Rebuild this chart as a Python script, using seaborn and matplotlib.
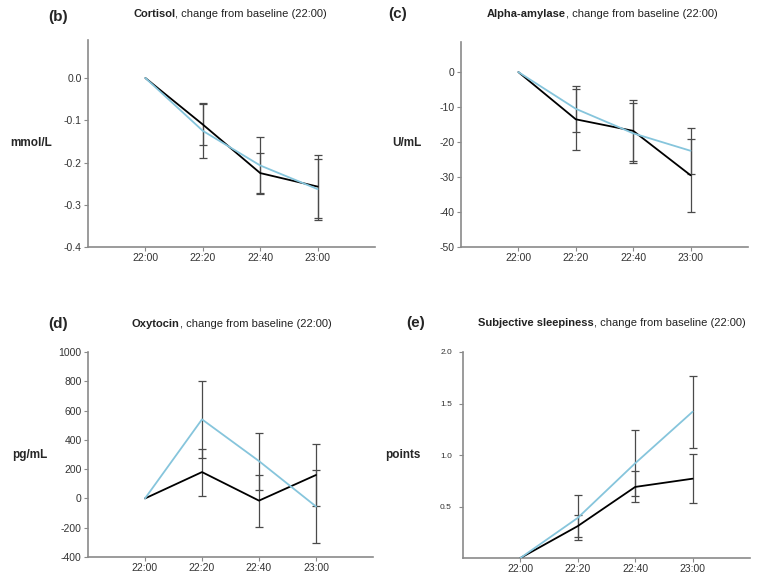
import numpy as np
import pandas as pd
import matplotlib
matplotlib.use('Agg')
import matplotlib.pyplot as plt
import seaborn as sns

times = ['22:00', '22:20', '22:40', '23:00']

# cortisol (mmol/L)
cort_black = [0, -0.11, -0.225, -0.257]
cort_black_err = [0, 0.049, 0.047, 0.075]
cort_blue = [0, -0.125, -0.207, -0.263]
cort_blue_err = [0, 0.065, 0.067, 0.072]

# alpha-amylase (U/mL)
amy_black = [0, -13.5, -16.8, -29.5]
amy_black_err = [0, 8.7, 8.7, 10.5]
amy_blue = [0, -10.5, -17.5, -22.5]
amy_blue_err = [0, 6.5, 8.6, 6.5]

# oxytocin (pg/mL)
oxy_black = [0, 180, -15, 160]
oxy_black_err = [0, 160, 178, 210]
oxy_blue = [0, 540, 255, -55]
oxy_blue_err = [0, 265, 195, 252]

# subjective sleepiness (points)
sleep_black = [0, 0.31, 0.69, 0.77]
sleep_black_err = [0, 0.11, 0.15, 0.235]
sleep_blue = [0, 0.39, 0.92, 1.42]
sleep_blue_err = [0, 0.22, 0.32, 0.35]

sns.set_style('ticks')
plt.rcParams['font.family'] = ['Liberation Sans', 'DejaVu Sans']

blue = '#86c5dc'
grey = '#4a4a4a'
spine_c = '#8a8a8a'

fig = plt.figure(figsize=(7.69, 5.83), dpi=100)
W, H = 769, 583

def add_ax(l, t, r, b):
    return fig.add_axes([l / W, 1 - b / H, (r - l) / W, (b - t) / H])

def panel(ax, black, black_err, blu, blu_err, ylim, yticks, ticklabels, fs):
    x = np.arange(len(times))
    df = pd.DataFrame({'x': np.concatenate([x, x]),
                       'y': black + blu,
                       'grp': ['a'] * 4 + ['b'] * 4})
    ax.errorbar(x[1:], blu[1:], yerr=blu_err[1:], fmt='none', ecolor=grey,
                elinewidth=0.9, capsize=3, capthick=0.9, zorder=1)
    ax.errorbar(x[1:], black[1:], yerr=black_err[1:], fmt='none', ecolor=grey,
                elinewidth=0.9, capsize=3, capthick=0.9, zorder=1)
    sns.lineplot(data=df, x='x', y='y', hue='grp', palette={'a': 'black', 'b': blue},
                 ax=ax, legend=False, linewidth=1.3, zorder=3)
    ax.set_xlim(-1, 4)
    ax.set_ylim(*ylim)
    ax.set_xticks(x)
    ax.set_xticklabels(times, fontsize=7.5, color='#333333')
    ax.set_yticks(yticks)
    ax.set_yticklabels(ticklabels, fontsize=fs, color='#333333')
    ax.set_xlabel('')
    ax.set_ylabel('')
    sns.despine(ax=ax)
    for s in ['left', 'bottom']:
        ax.spines[s].set_color(spine_c)
        ax.spines[s].set_linewidth(1.2)
    ax.tick_params(length=3, width=0.8, color=spine_c, pad=1.5)

def title(x, y, bold, rest):
    t = fig.text(x / W, 1 - y / H, bold, fontsize=8, fontweight='bold',
                 va='center', ha='left', color='#222222')
    fig.canvas.draw()
    bb = t.get_window_extent()
    fig.text(bb.x1 / (W), 1 - y / H, rest, fontsize=8, va='center', ha='left',
             color='#222222')

# (b) cortisol
ax_b = add_ax(88, 40, 375, 247)
panel(ax_b, cort_black, cort_black_err, cort_blue, cort_blue_err,
      (-0.4, 0.09), [0.0, -0.1, -0.2, -0.3, -0.4],
      ['0.0', '-0.1', '-0.2', '-0.3', '-0.4'], 7.5)

# (c) alpha-amylase
ax_c = add_ax(461, 42, 748, 247)
panel(ax_c, amy_black, amy_black_err, amy_blue, amy_blue_err,
      (-50, 8.6), [0, -10, -20, -30, -40, -50],
      ['0', '-10', '-20', '-30', '-40', '-50'], 7.5)

# (d) oxytocin
ax_d = add_ax(88, 352, 373, 557)
panel(ax_d, oxy_black, oxy_black_err, oxy_blue, oxy_blue_err,
      (-400, 1000), [-400, -200, 0, 200, 400, 600, 800, 1000],
      ['-400', '-200', '0', '200', '400', '600', '800', '1000'], 7.5)

# (e) subjective sleepiness
ax_e = add_ax(463, 352, 750, 558)
panel(ax_e, sleep_black, sleep_black_err, sleep_blue, sleep_blue_err,
      (0, 2.0), [0.5, 1.0, 1.5, 2.0], ['0.5', '1.0', '1.5', '2.0'], 6)
ax_e.tick_params(axis='y', pad=5)

# panel letters
for lx, ly, lab in [(48, 17, '(b)'), (388, 14, '(c)'), (48, 324, '(d)'), (406, 323, '(e)')]:
    fig.text(lx / W, 1 - ly / H, lab, fontsize=11, fontweight='bold', va='center', ha='left')

# y-axis unit labels
for lx, ly, lab in [(10, 143, 'mmol/L'), (392, 143, 'U/mL'), (12, 455, 'pg/mL'), (385, 455, 'points')]:
    fig.text(lx / W, 1 - ly / H, lab, fontsize=8.5, fontweight='bold', va='center', ha='left')

title(133, 14, 'Cortisol', ', change from baseline (22:00)')
title(487, 14, 'Alpha-amylase', ', change from baseline (22:00)')
title(132, 324, 'Oxytocin', ', change from baseline (22:00)')
title(478, 323, 'Subjective sleepiness', ', change from baseline (22:00)')

fig.savefig('out.png', dpi=100)
